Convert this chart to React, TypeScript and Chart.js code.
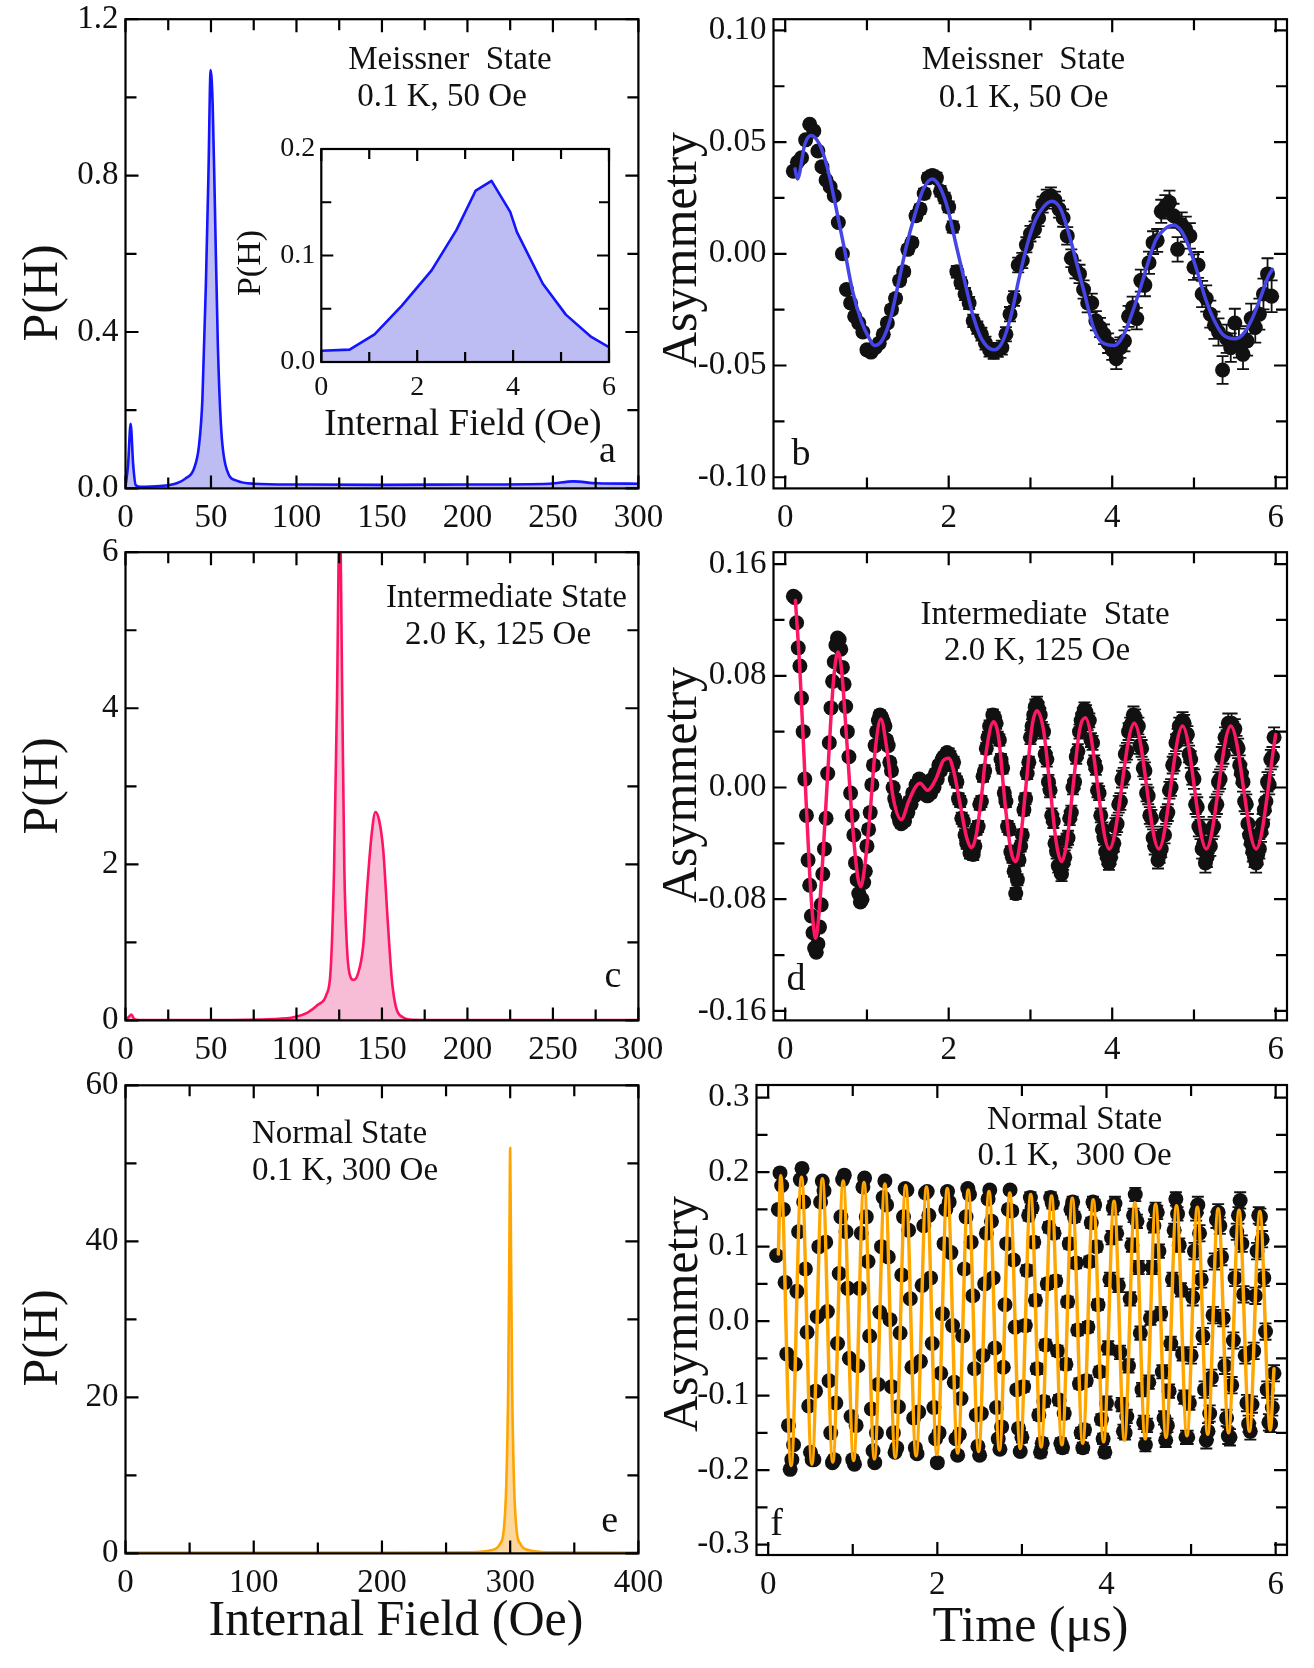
import { useEffect, useRef } from 'react';
import { Chart, registerables } from 'chart.js';

Chart.register(...registerables);

const SERIF = '"Liberation Serif", "Times New Roman", Times, serif';
const INK = '#111111';

// ---------- (a) field distribution, Meissner state ----------
const aField = [0, 1.5, 3, 4.5, 6, 9, 15, 25, 30, 35, 40, 43, 45, 47, 48.5, 49.8, 51, 52.3, 54, 56, 59.5, 65, 75, 100, 150, 200, 248, 262, 276, 300];
const aProb = [0.005, 0.06, 0.165, 0.06, 0.008, 0.004, 0.005, 0.008, 0.013, 0.025, 0.05, 0.11, 0.23, 0.52, 0.8, 1.07, 0.98, 0.72, 0.37, 0.15, 0.045, 0.02, 0.012, 0.01, 0.009, 0.01, 0.012, 0.018, 0.013, 0.012];
const aXTicks = [0, 50, 100, 150, 200, 250, 300];
const aXMinor = [25, 75, 125, 175, 225, 275];
const aYTicks = [0, 0.4, 0.8, 1.2];
const aYMinor = [0.2, 0.6, 1.0];

// inset of (a): low-field part of the distribution
const insetField = [0, 0.59, 1.11, 1.68, 2.3, 2.82, 3.22, 3.55, 3.94, 4.08, 4.62, 5.1, 5.63, 6];
const insetProb = [0.0106, 0.0116, 0.026, 0.053, 0.086, 0.124, 0.161, 0.17, 0.141, 0.122, 0.0735, 0.0445, 0.0235, 0.0139];
const insetXTicks = [0, 2, 4, 6];
const insetXMinor = [1, 3, 5];
const insetYTicks = [0, 0.1, 0.2];
const insetYMinor = [0.05, 0.15];

// ---------- (b) asymmetry, Meissner state: [time, asymmetry, error] ----------
const bPoints = [
  [0.10, 0.037, 0.0010], [0.15, 0.041, 0.0010], [0.20, 0.043, 0.0010], [0.25, 0.051, 0.0011], [0.30, 0.058, 0.0011],
  [0.35, 0.055, 0.0011], [0.40, 0.046, 0.0012], [0.45, 0.039, 0.0012], [0.50, 0.033, 0.0012], [0.55, 0.030, 0.0013],
  [0.60, 0.026, 0.0013], [0.65, 0.014, 0.0013], [0.70, 0.000, 0.0014], [0.75, -0.016, 0.0014], [0.80, -0.022, 0.0014],
  [0.85, -0.028, 0.0015], [0.90, -0.031, 0.0015], [0.95, -0.035, 0.0015], [1.00, -0.043, 0.0016], [1.05, -0.044, 0.0016],
  [1.10, -0.042, 0.0017], [1.15, -0.040, 0.0017], [1.20, -0.036, 0.0017], [1.25, -0.031, 0.0018], [1.30, -0.025, 0.0018],
  [1.35, -0.020, 0.0019], [1.40, -0.012, 0.0019], [1.45, -0.008, 0.0019], [1.50, 0.002, 0.0020], [1.55, 0.005, 0.0020],
  [1.60, 0.017, 0.0021], [1.65, 0.020, 0.0021], [1.70, 0.027, 0.0022], [1.75, 0.034, 0.0022], [1.80, 0.035, 0.0023],
  [1.85, 0.034, 0.0023], [1.90, 0.028, 0.0024], [1.95, 0.025, 0.0024], [2.00, 0.021, 0.0025], [2.05, 0.012, 0.0025],
  [2.10, -0.008, 0.0026], [2.15, -0.013, 0.0026], [2.20, -0.018, 0.0027], [2.25, -0.022, 0.0027], [2.30, -0.030, 0.0028],
  [2.35, -0.033, 0.0028], [2.40, -0.036, 0.0029], [2.45, -0.040, 0.0029], [2.50, -0.043, 0.0030], [2.55, -0.044, 0.0030],
  [2.60, -0.043, 0.0031], [2.65, -0.042, 0.0031], [2.70, -0.036, 0.0032], [2.75, -0.027, 0.0032], [2.80, -0.020, 0.0033],
  [2.85, -0.005, 0.0033], [2.90, -0.003, 0.0034], [2.95, 0.004, 0.0034], [3.00, 0.009, 0.0035], [3.05, 0.011, 0.0035],
  [3.10, 0.016, 0.0036], [3.15, 0.022, 0.0036], [3.20, 0.025, 0.0037], [3.25, 0.026, 0.0037], [3.30, 0.024, 0.0038],
  [3.35, 0.020, 0.0038], [3.40, 0.016, 0.0039], [3.45, 0.008, 0.0039], [3.50, -0.002, 0.0040], [3.55, -0.007, 0.0040],
  [3.60, -0.009, 0.0041], [3.65, -0.016, 0.0041], [3.70, -0.022, 0.0042], [3.75, -0.022, 0.0042], [3.80, -0.030, 0.0043],
  [3.85, -0.033, 0.0043], [3.90, -0.036, 0.0044], [3.95, -0.040, 0.0044], [4.00, -0.043, 0.0045], [4.05, -0.047, 0.0046],
  [4.10, -0.042, 0.0046], [4.15, -0.039, 0.0047], [4.20, -0.028, 0.0047], [4.25, -0.024, 0.0048], [4.30, -0.029, 0.0048],
  [4.35, -0.012, 0.0049], [4.40, -0.014, 0.0050], [4.45, -0.004, 0.0050], [4.50, 0.005, 0.0051], [4.55, 0.006, 0.0051],
  [4.60, 0.019, 0.0052], [4.65, 0.021, 0.0053], [4.70, 0.023, 0.0053], [4.75, 0.017, 0.0054], [4.80, 0.002, 0.0055],
  [4.85, 0.013, 0.0055], [4.90, 0.011, 0.0056], [4.95, 0.008, 0.0057], [5.00, -0.006, 0.0057], [5.05, -0.005, 0.0058],
  [5.10, -0.018, 0.0059], [5.15, -0.020, 0.0059], [5.20, -0.027, 0.0060], [5.25, -0.032, 0.0061], [5.30, -0.035, 0.0061],
  [5.35, -0.052, 0.0062], [5.40, -0.038, 0.0063], [5.45, -0.042, 0.0064], [5.50, -0.031, 0.0064], [5.55, -0.040, 0.0065],
  [5.60, -0.045, 0.0066], [5.65, -0.039, 0.0066], [5.70, -0.029, 0.0067], [5.75, -0.033, 0.0068], [5.80, -0.027, 0.0069],
  [5.85, -0.018, 0.0069], [5.90, -0.009, 0.0070], [5.95, -0.019, 0.0071],
];
const bFit = [
  [0.12, 0.038], [0.15, 0.0335], [0.24, 0.049], [0.315, 0.053], [0.42, 0.049], [0.52, 0.038], [0.62, 0.021], [0.72, 0.003],
  [0.82, -0.016], [0.93, -0.030], [1.03, -0.038], [1.09, -0.041], [1.18, -0.039], [1.28, -0.030], [1.38, -0.014], [1.48, 0.003],
  [1.59, 0.018], [1.69, 0.029], [1.80, 0.0335], [1.89, 0.030], [1.99, 0.020], [2.09, 0.004], [2.20, -0.013], [2.30, -0.028],
  [2.40, -0.038], [2.55, -0.043], [2.65, -0.040], [2.76, -0.028], [2.86, -0.011], [2.96, 0.004], [3.06, 0.015], [3.16, 0.021],
  [3.26, 0.0235], [3.37, 0.020], [3.47, 0.009], [3.57, -0.005], [3.67, -0.019], [3.77, -0.033], [3.87, -0.0395], [4.03, -0.041],
  [4.13, -0.037], [4.23, -0.028], [4.33, -0.017], [4.43, -0.005], [4.53, 0.006], [4.64, 0.011], [4.75, 0.0128], [4.84, 0.0105],
  [4.94, 0.003], [5.04, -0.008], [5.14, -0.020], [5.25, -0.030], [5.35, -0.036], [5.50, -0.038], [5.60, -0.036], [5.70, -0.030],
  [5.81, -0.020], [5.91, -0.010], [5.96, -0.007],
];
const timeTicks = [0, 2, 4, 6];
const timeMinor = [1, 3, 5];
const bYTicks = [-0.1, -0.05, 0, 0.05, 0.1];
const bYMinor = [-0.075, -0.025, 0.025, 0.075];

// ---------- (c) field distribution, intermediate state ----------
const cField = [0, 1.7, 3.5, 5, 8, 50, 87, 99, 106.5, 112.5, 117.5, 120, 122, 123.7, 125.3, 126.8, 128, 129.5, 131, 133.5, 136, 139, 141.5, 144, 146.2, 148.4, 150.8, 153.3, 155.8, 158.2, 162, 168, 200, 300];
const cProb = [0, 0.04, 0.075, 0.02, 0.005, 0.005, 0.017, 0.043, 0.1, 0.2, 0.33, 0.65, 1.95, 4.1, 6.6, 4.1, 1.95, 0.95, 0.6, 0.52, 0.6, 0.95, 1.74, 2.39, 2.67, 2.56, 2.17, 1.3, 0.52, 0.17, 0.043, 0.009, 0.005, 0.005];
const cYTicks = [0, 2, 4, 6];
const cYMinor = [1, 3, 5];

// ---------- (d) asymmetry, intermediate state: [time, asymmetry, error] ----------
const dPoints = [
  [0.10, 0.137, 0.0015], [0.12, 0.136, 0.0015], [0.14, 0.118, 0.0015], [0.16, 0.100, 0.0015], [0.18, 0.087, 0.0015],
  [0.20, 0.064, 0.0015], [0.22, 0.040, 0.0015], [0.24, 0.006, 0.0015], [0.26, -0.020, 0.0015], [0.28, -0.052, 0.0015],
  [0.30, -0.070, 0.0015], [0.32, -0.092, 0.0015], [0.34, -0.104, 0.0015], [0.36, -0.115, 0.0015], [0.38, -0.118, 0.0015],
  [0.40, -0.112, 0.0015], [0.42, -0.100, 0.0015], [0.44, -0.084, 0.0015], [0.46, -0.062, 0.0015], [0.48, -0.044, 0.0015],
  [0.50, -0.022, 0.002], [0.52, 0.010, 0.002], [0.54, 0.032, 0.002], [0.56, 0.057, 0.002], [0.58, 0.076, 0.002],
  [0.60, 0.090, 0.002], [0.62, 0.102, 0.002], [0.64, 0.107, 0.002], [0.66, 0.106, 0.002], [0.68, 0.099, 0.002],
  [0.70, 0.086, 0.002], [0.72, 0.074, 0.002], [0.74, 0.058, 0.002], [0.76, 0.040, 0.002], [0.78, 0.022, 0.002],
  [0.80, -0.004, 0.002], [0.82, -0.020, 0.002], [0.84, -0.034, 0.002], [0.86, -0.054, 0.002], [0.88, -0.066, 0.002],
  [0.90, -0.076, 0.002], [0.92, -0.082, 0.002], [0.94, -0.080, 0.002], [0.96, -0.068, 0.002], [0.98, -0.060, 0.002],
  [1.00, -0.042, 0.003], [1.02, -0.030, 0.003], [1.04, -0.018, 0.003], [1.06, 0.002, 0.003], [1.08, 0.016, 0.003],
  [1.10, 0.030, 0.003], [1.12, 0.040, 0.003], [1.14, 0.048, 0.003], [1.16, 0.052, 0.003], [1.18, 0.050, 0.003],
  [1.20, 0.047, 0.003], [1.22, 0.044, 0.003], [1.24, 0.034, 0.003], [1.26, 0.030, 0.003], [1.28, 0.018, 0.003],
  [1.30, 0.012, 0.003], [1.32, 0.000, 0.003], [1.34, -0.008, 0.003], [1.36, -0.012, 0.003], [1.38, -0.020, 0.003],
  [1.40, -0.024, 0.003], [1.42, -0.026, 0.003], [1.44, -0.022, 0.003], [1.46, -0.024, 0.003], [1.48, -0.016, 0.003],
  [1.50, -0.018, 0.003], [1.52, -0.010, 0.003], [1.54, -0.012, 0.003], [1.56, -0.004, 0.003], [1.58, -0.006, 0.003],
  [1.60, 0.002, 0.003], [1.62, -0.002, 0.003], [1.64, 0.006, 0.003], [1.66, 0.000, 0.003], [1.68, 0.004, 0.003],
  [1.70, -0.004, 0.003], [1.72, 0.000, 0.003], [1.74, -0.006, 0.003], [1.76, 0.002, 0.003], [1.78, -0.004, 0.003],
  [1.80, 0.006, 0.003], [1.82, 0.000, 0.003], [1.84, 0.010, 0.003], [1.86, 0.006, 0.003], [1.88, 0.016, 0.003],
  [1.90, 0.012, 0.003], [1.92, 0.020, 0.003], [1.94, 0.022, 0.003], [1.96, 0.018, 0.003], [1.98, 0.025, 0.003],
  [2.00, 0.024, 0.004], [2.02, 0.022, 0.004], [2.04, 0.016, 0.004], [2.06, 0.018, 0.004], [2.08, 0.006, 0.004],
  [2.10, 0.004, 0.004], [2.12, -0.008, 0.004], [2.14, -0.010, 0.004], [2.16, -0.022, 0.004], [2.18, -0.024, 0.004],
  [2.20, -0.034, 0.004], [2.22, -0.040, 0.004], [2.24, -0.038, 0.004], [2.26, -0.047, 0.004], [2.28, -0.044, 0.004],
  [2.30, -0.048, 0.004], [2.32, -0.042, 0.004], [2.34, -0.030, 0.004], [2.36, -0.028, 0.004], [2.38, -0.012, 0.004],
  [2.40, -0.010, 0.004], [2.42, 0.008, 0.004], [2.44, 0.012, 0.004], [2.46, 0.028, 0.004], [2.48, 0.036, 0.004],
  [2.50, 0.044, 0.004], [2.52, 0.040, 0.004], [2.54, 0.052, 0.004], [2.56, 0.050, 0.004], [2.58, 0.046, 0.004],
  [2.60, 0.036, 0.004], [2.62, 0.034, 0.004], [2.64, 0.020, 0.004], [2.66, 0.014, 0.004], [2.68, -0.004, 0.004],
  [2.70, -0.010, 0.004], [2.72, -0.028, 0.004], [2.74, -0.030, 0.004], [2.76, -0.046, 0.004], [2.78, -0.050, 0.004],
  [2.80, -0.060, 0.004], [2.82, -0.076, 0.004], [2.84, -0.066, 0.004], [2.86, -0.052, 0.004], [2.88, -0.042, 0.004],
  [2.90, -0.034, 0.004], [2.92, -0.016, 0.004], [2.94, -0.008, 0.004], [2.96, 0.010, 0.004], [2.98, 0.018, 0.004],
  [3.00, 0.036, 0.005], [3.02, 0.044, 0.005], [3.04, 0.052, 0.005], [3.06, 0.058, 0.005], [3.08, 0.060, 0.005],
  [3.10, 0.056, 0.005], [3.12, 0.052, 0.005], [3.14, 0.042, 0.005], [3.16, 0.040, 0.005], [3.18, 0.024, 0.005],
  [3.20, 0.020, 0.005], [3.22, 0.004, 0.005], [3.24, -0.002, 0.005], [3.26, -0.020, 0.005], [3.28, -0.024, 0.005],
  [3.30, -0.040, 0.005], [3.32, -0.046, 0.005], [3.34, -0.056, 0.005], [3.36, -0.058, 0.005], [3.38, -0.062, 0.005],
  [3.40, -0.054, 0.005], [3.42, -0.050, 0.005], [3.44, -0.038, 0.005], [3.46, -0.036, 0.005], [3.48, -0.022, 0.005],
  [3.50, -0.018, 0.005], [3.52, 0.000, 0.005], [3.54, 0.004, 0.005], [3.56, 0.022, 0.005], [3.58, 0.026, 0.005],
  [3.60, 0.040, 0.005], [3.62, 0.048, 0.005], [3.64, 0.052, 0.005], [3.66, 0.056, 0.005], [3.68, 0.054, 0.005],
  [3.70, 0.046, 0.005], [3.72, 0.048, 0.005], [3.74, 0.034, 0.005], [3.76, 0.032, 0.005], [3.78, 0.018, 0.005],
  [3.80, 0.014, 0.005], [3.82, -0.002, 0.005], [3.84, -0.004, 0.005], [3.86, -0.020, 0.005], [3.88, -0.030, 0.005],
  [3.90, -0.036, 0.005], [3.92, -0.046, 0.005], [3.94, -0.050, 0.005], [3.96, -0.054, 0.005], [3.98, -0.050, 0.005],
  [4.00, -0.044, 0.006], [4.02, -0.040, 0.006], [4.04, -0.028, 0.006], [4.06, -0.026, 0.006], [4.08, -0.012, 0.006],
  [4.10, -0.010, 0.006], [4.12, 0.006, 0.006], [4.14, 0.008, 0.006], [4.16, 0.024, 0.006], [4.18, 0.026, 0.006],
  [4.20, 0.040, 0.006], [4.22, 0.044, 0.006], [4.24, 0.046, 0.006], [4.26, 0.052, 0.006], [4.28, 0.050, 0.006],
  [4.30, 0.042, 0.006], [4.32, 0.044, 0.006], [4.34, 0.030, 0.006], [4.36, 0.028, 0.006], [4.38, 0.014, 0.006],
  [4.40, 0.012, 0.006], [4.42, -0.004, 0.006], [4.44, -0.006, 0.006], [4.46, -0.020, 0.006], [4.48, -0.022, 0.006],
  [4.50, -0.036, 0.006], [4.52, -0.042, 0.006], [4.54, -0.040, 0.006], [4.56, -0.052, 0.006], [4.58, -0.048, 0.006],
  [4.60, -0.044, 0.006], [4.62, -0.034, 0.006], [4.64, -0.034, 0.006], [4.66, -0.020, 0.006], [4.68, -0.018, 0.006],
  [4.70, -0.002, 0.006], [4.72, 0.000, 0.006], [4.74, 0.016, 0.006], [4.76, 0.018, 0.006], [4.78, 0.032, 0.006],
  [4.80, 0.036, 0.006], [4.82, 0.044, 0.006], [4.84, 0.040, 0.006], [4.86, 0.048, 0.006], [4.88, 0.046, 0.006],
  [4.90, 0.036, 0.006], [4.92, 0.038, 0.006], [4.94, 0.024, 0.006], [4.96, 0.020, 0.006], [4.98, 0.008, 0.006],
  [5.00, 0.006, 0.007], [5.02, -0.012, 0.007], [5.04, -0.014, 0.007], [5.06, -0.028, 0.007], [5.08, -0.030, 0.007],
  [5.10, -0.044, 0.007], [5.12, -0.040, 0.007], [5.14, -0.054, 0.007], [5.16, -0.050, 0.007], [5.18, -0.040, 0.007],
  [5.20, -0.042, 0.007], [5.22, -0.030, 0.007], [5.24, -0.028, 0.007], [5.26, -0.014, 0.007], [5.28, -0.012, 0.007],
  [5.30, 0.004, 0.007], [5.32, 0.006, 0.007], [5.34, 0.022, 0.007], [5.36, 0.024, 0.007], [5.38, 0.036, 0.007],
  [5.40, 0.034, 0.007], [5.42, 0.046, 0.007], [5.44, 0.042, 0.007], [5.46, 0.046, 0.007], [5.48, 0.040, 0.007],
  [5.50, 0.042, 0.007], [5.52, 0.030, 0.007], [5.54, 0.028, 0.007], [5.56, 0.016, 0.007], [5.58, 0.010, 0.007],
  [5.60, 0.004, 0.007], [5.62, -0.010, 0.007], [5.64, -0.012, 0.007], [5.66, -0.026, 0.007], [5.68, -0.034, 0.007],
  [5.70, -0.040, 0.007], [5.72, -0.046, 0.007], [5.74, -0.050, 0.007], [5.76, -0.054, 0.007], [5.78, -0.048, 0.007],
  [5.80, -0.044, 0.007], [5.82, -0.032, 0.007], [5.84, -0.026, 0.007], [5.86, -0.016, 0.007], [5.88, -0.010, 0.007],
  [5.90, 0.004, 0.007], [5.92, 0.002, 0.007], [5.94, 0.020, 0.007], [5.96, 0.022, 0.007], [5.98, 0.036, 0.007],
];
const dFit = [
  [0.125, 0.134], [0.18, 0.084], [0.24, 0.010], [0.30, -0.062], [0.344, -0.098], [0.373, -0.108], [0.414, -0.090],
  [0.466, -0.045], [0.53, 0.020], [0.59, 0.076], [0.645, 0.097], [0.69, 0.084], [0.75, 0.036], [0.82, -0.024],
  [0.887, -0.064], [0.925, -0.071], [0.976, -0.055], [1.04, -0.017], [1.10, 0.026], [1.17, 0.049], [1.24, 0.029],
  [1.32, -0.007], [1.42, -0.023], [1.51, -0.010], [1.59, 0.000], [1.65, 0.003], [1.74, -0.002], [1.85, 0.007],
  [1.93, 0.019], [2.00, 0.021], [2.06, 0.012], [2.14, -0.012], [2.22, -0.036], [2.28, -0.043], [2.34, -0.033],
  [2.40, -0.007], [2.46, 0.026], [2.55, 0.047], [2.61, 0.036], [2.69, -0.012], [2.76, -0.045], [2.82, -0.053],
  [2.87, -0.041], [2.95, 0.004], [3.02, 0.044], [3.08, 0.055], [3.16, 0.041], [3.24, 0.000], [3.32, -0.041],
  [3.38, -0.053], [3.44, -0.041], [3.52, 0.000], [3.60, 0.041], [3.67, 0.050], [3.965, -0.044], [4.27, 0.046],
  [4.57, -0.044], [4.86, 0.044], [5.15, -0.044], [5.45, 0.044], [5.76, -0.044], [6.0, 0.038],
];
const dYTicks = [-0.16, -0.08, 0, 0.08, 0.16];
const dYMinor = [-0.12, -0.04, 0.04, 0.12];

// ---------- (e) field distribution, normal state ----------
const eField = [0, 100, 200, 270, 285, 292, 295, 297, 298.5, 299.4, 300, 300.6, 301.5, 303, 305, 308, 315, 330, 400];
const eProb = [0.1, 0.1, 0.1, 0.15, 0.4, 1.2, 3, 9, 22, 40, 52, 40, 22, 9, 3, 1.2, 0.4, 0.15, 0.1];
const eXTicks = [0, 100, 200, 300, 400];
const eXMinor = [50, 150, 250, 350];
const eYTicks = [0, 20, 40, 60];
const eYMinor = [10, 30, 50];

// ---------- (f) asymmetry, normal state: [time, asymmetry, error] ----------
const fPoints = [
  [0.10, 0.088, 0.003], [0.12, 0.150, 0.003], [0.14, 0.199, 0.003], [0.16, 0.182, 0.003], [0.18, 0.150, 0.003],
  [0.20, 0.052, 0.003], [0.22, -0.044, 0.003], [0.24, -0.140, 0.003], [0.26, -0.199, 0.003], [0.28, -0.186, 0.003],
  [0.30, -0.166, 0.003], [0.32, -0.058, 0.003], [0.34, 0.040, 0.003], [0.36, 0.120, 0.003], [0.38, 0.190, 0.003],
  [0.40, 0.205, 0.003], [0.42, 0.160, 0.003], [0.44, 0.070, 0.003], [0.46, -0.015, 0.003], [0.48, -0.114, 0.003],
  [0.50, -0.176, 0.003], [0.52, -0.186, 0.003], [0.54, -0.186, 0.003], [0.56, -0.094, 0.003], [0.58, 0.006, 0.003],
  [0.60, 0.100, 0.003], [0.62, 0.160, 0.003], [0.64, 0.188, 0.003], [0.66, 0.175, 0.003], [0.68, 0.106, 0.003],
  [0.70, 0.013, 0.003], [0.72, -0.080, 0.003], [0.74, -0.150, 0.003], [0.76, -0.190, 0.003], [0.78, -0.186, 0.003],
  [0.80, -0.110, 0.003], [0.82, -0.030, 0.003], [0.84, 0.064, 0.003], [0.86, 0.140, 0.003], [0.88, 0.190, 0.003],
  [0.90, 0.196, 0.003], [0.92, 0.120, 0.003], [0.94, 0.044, 0.003], [0.96, -0.050, 0.003], [0.98, -0.128, 0.003],
  [1.00, -0.186, 0.004], [1.02, -0.192, 0.004], [1.04, -0.140, 0.004], [1.06, -0.060, 0.004], [1.08, 0.044, 0.004],
  [1.10, 0.118, 0.004], [1.12, 0.180, 0.004], [1.14, 0.192, 0.004], [1.16, 0.140, 0.004], [1.18, 0.080, 0.004],
  [1.20, -0.020, 0.004], [1.22, -0.118, 0.004], [1.24, -0.174, 0.004], [1.26, -0.190, 0.004], [1.28, -0.150, 0.004],
  [1.30, -0.085, 0.004], [1.32, 0.012, 0.004], [1.34, 0.100, 0.004], [1.36, 0.166, 0.004], [1.38, 0.188, 0.004],
  [1.40, 0.156, 0.004], [1.42, 0.086, 0.004], [1.44, 0.002, 0.004], [1.46, -0.088, 0.004], [1.48, -0.150, 0.004],
  [1.50, -0.176, 0.004], [1.52, -0.170, 0.004], [1.54, -0.115, 0.004], [1.56, -0.016, 0.004], [1.58, 0.062, 0.004],
  [1.60, 0.140, 0.004], [1.62, 0.178, 0.004], [1.64, 0.176, 0.004], [1.66, 0.122, 0.004], [1.68, 0.030, 0.004],
  [1.70, -0.062, 0.004], [1.72, -0.130, 0.004], [1.74, -0.170, 0.004], [1.76, -0.178, 0.004], [1.78, -0.122, 0.004],
  [1.80, -0.054, 0.004], [1.82, 0.048, 0.004], [1.84, 0.128, 0.004], [1.86, 0.172, 0.004], [1.88, 0.174, 0.004],
  [1.90, 0.142, 0.004], [1.92, 0.058, 0.004], [1.94, -0.030, 0.004], [1.96, -0.116, 0.004], [1.98, -0.158, 0.004],
  [2.00, -0.190, 0.005], [2.02, -0.150, 0.005], [2.04, -0.070, 0.005], [2.06, 0.010, 0.005], [2.08, 0.104, 0.005],
  [2.10, 0.150, 0.005], [2.12, 0.174, 0.005], [2.14, 0.160, 0.005], [2.16, 0.092, 0.005], [2.18, -0.006, 0.005],
  [2.20, -0.082, 0.005], [2.22, -0.158, 0.005], [2.24, -0.180, 0.005], [2.26, -0.152, 0.005], [2.28, -0.104, 0.005],
  [2.30, -0.020, 0.005], [2.32, 0.070, 0.005], [2.34, 0.140, 0.005], [2.36, 0.178, 0.005], [2.38, 0.170, 0.005],
  [2.40, 0.106, 0.005], [2.42, 0.034, 0.005], [2.44, -0.064, 0.005], [2.46, -0.126, 0.005], [2.48, -0.168, 0.005],
  [2.50, -0.180, 0.005], [2.52, -0.124, 0.005], [2.54, -0.046, 0.005], [2.56, 0.050, 0.005], [2.58, 0.118, 0.005],
  [2.60, 0.164, 0.005], [2.62, 0.176, 0.005], [2.64, 0.134, 0.005], [2.66, 0.058, 0.005], [2.68, -0.036, 0.005],
  [2.70, -0.116, 0.005], [2.72, -0.158, 0.005], [2.74, -0.172, 0.005], [2.76, -0.142, 0.005], [2.78, -0.062, 0.005],
  [2.80, 0.022, 0.005], [2.82, 0.104, 0.005], [2.84, 0.150, 0.005], [2.86, 0.176, 0.005], [2.88, 0.148, 0.005],
  [2.90, 0.082, 0.005], [2.92, -0.008, 0.005], [2.94, -0.092, 0.005], [2.96, -0.144, 0.005], [2.98, -0.175, 0.005],
  [3.00, -0.156, 0.007], [3.02, -0.088, 0.007], [3.04, -0.006, 0.007], [3.06, 0.068, 0.007], [3.08, 0.142, 0.007],
  [3.10, 0.166, 0.007], [3.12, 0.152, 0.007], [3.14, 0.106, 0.007], [3.16, 0.028, 0.007], [3.18, -0.064, 0.007],
  [3.20, -0.126, 0.007], [3.22, -0.176, 0.007], [3.24, -0.164, 0.007], [3.26, -0.108, 0.007], [3.28, -0.032, 0.007],
  [3.30, 0.050, 0.007], [3.32, 0.126, 0.007], [3.34, 0.166, 0.007], [3.36, 0.158, 0.007], [3.38, 0.118, 0.007],
  [3.40, 0.054, 0.007], [3.42, -0.040, 0.007], [3.44, -0.106, 0.007], [3.46, -0.164, 0.007], [3.48, -0.170, 0.007],
  [3.50, -0.124, 0.007], [3.52, -0.058, 0.007], [3.54, 0.026, 0.007], [3.56, 0.104, 0.007], [3.58, 0.150, 0.007],
  [3.60, 0.160, 0.007], [3.62, 0.140, 0.007], [3.64, 0.078, 0.007], [3.66, -0.012, 0.007], [3.68, -0.084, 0.007],
  [3.70, -0.150, 0.007], [3.72, -0.170, 0.007], [3.74, -0.146, 0.007], [3.76, -0.080, 0.007], [3.78, -0.008, 0.007],
  [3.80, 0.080, 0.007], [3.82, 0.132, 0.007], [3.84, 0.160, 0.007], [3.86, 0.156, 0.007], [3.88, 0.100, 0.007],
  [3.90, 0.022, 0.007], [3.92, -0.068, 0.007], [3.94, -0.132, 0.007], [3.96, -0.158, 0.007], [3.98, -0.176, 0.007],
  [4.00, -0.110, 0.009], [4.02, -0.036, 0.009], [4.04, 0.056, 0.009], [4.06, 0.112, 0.009], [4.08, 0.152, 0.009],
  [4.10, 0.158, 0.009], [4.12, 0.118, 0.009], [4.14, 0.048, 0.009], [4.16, -0.042, 0.009], [4.18, -0.112, 0.009],
  [4.20, -0.148, 0.009], [4.22, -0.150, 0.009], [4.24, -0.128, 0.009], [4.26, -0.060, 0.009], [4.28, 0.030, 0.009],
  [4.30, 0.102, 0.009], [4.32, 0.142, 0.009], [4.34, 0.170, 0.009], [4.36, 0.134, 0.009], [4.38, 0.072, 0.009],
  [4.40, -0.016, 0.009], [4.42, -0.092, 0.009], [4.44, -0.136, 0.009], [4.46, -0.166, 0.009], [4.48, -0.140, 0.009],
  [4.50, -0.082, 0.009], [4.52, 0.004, 0.009], [4.54, 0.072, 0.009], [4.56, 0.128, 0.009], [4.58, 0.150, 0.009],
  [4.60, 0.146, 0.009], [4.62, 0.094, 0.009], [4.64, 0.010, 0.009], [4.66, -0.068, 0.009], [4.68, -0.130, 0.009],
  [4.70, -0.160, 0.009], [4.72, -0.140, 0.009], [4.74, -0.094, 0.009], [4.76, -0.030, 0.009], [4.78, 0.056, 0.009],
  [4.80, 0.122, 0.009], [4.82, 0.164, 0.009], [4.84, 0.144, 0.009], [4.86, 0.102, 0.009], [4.88, 0.042, 0.009],
  [4.90, -0.044, 0.009], [4.92, -0.102, 0.009], [4.94, -0.156, 0.009], [4.96, -0.156, 0.009], [4.98, -0.110, 0.009],
  [5.00, -0.046, 0.011], [5.02, 0.032, 0.011], [5.04, 0.094, 0.011], [5.06, 0.146, 0.011], [5.08, 0.156, 0.011],
  [5.10, 0.118, 0.011], [5.12, 0.056, 0.011], [5.14, -0.020, 0.011], [5.16, -0.092, 0.011], [5.18, -0.160, 0.011],
  [5.20, -0.148, 0.011], [5.22, -0.124, 0.011], [5.24, -0.076, 0.011], [5.26, 0.008, 0.011], [5.28, 0.080, 0.011],
  [5.30, 0.136, 0.011], [5.32, 0.146, 0.011], [5.34, 0.128, 0.011], [5.36, 0.086, 0.011], [5.38, 0.004, 0.011],
  [5.40, -0.060, 0.011], [5.42, -0.130, 0.011], [5.44, -0.154, 0.011], [5.46, -0.156, 0.011], [5.48, -0.086, 0.011],
  [5.50, -0.026, 0.011], [5.52, 0.058, 0.011], [5.54, 0.120, 0.011], [5.56, 0.142, 0.011], [5.58, 0.162, 0.011],
  [5.60, 0.104, 0.011], [5.62, 0.036, 0.011], [5.64, -0.046, 0.011], [5.66, -0.110, 0.011], [5.68, -0.138, 0.011],
  [5.70, -0.148, 0.011], [5.72, -0.112, 0.011], [5.74, -0.040, 0.011], [5.76, 0.034, 0.011], [5.78, 0.094, 0.011],
  [5.80, 0.142, 0.011], [5.82, 0.140, 0.011], [5.84, 0.110, 0.011], [5.86, 0.058, 0.011], [5.88, -0.014, 0.011],
  [5.90, -0.092, 0.011], [5.92, -0.136, 0.011], [5.94, -0.138, 0.011], [5.96, -0.116, 0.011], [5.98, -0.070, 0.011],
];
const fFit = [
  [0.12, 0.090], [0.148, 0.195], [0.271, -0.194], [0.394, 0.193], [0.517, -0.192], [0.641, 0.191], [0.764, -0.189],
  [0.887, 0.188], [1.010, -0.187], [1.133, 0.186], [1.256, -0.185], [1.380, 0.184], [1.503, -0.183], [1.626, 0.182],
  [1.749, -0.181], [1.872, 0.180], [1.995, -0.179], [2.118, 0.178], [2.241, -0.177], [2.365, 0.176], [2.488, -0.175],
  [2.611, 0.174], [2.734, -0.173], [2.857, 0.172], [2.980, -0.171], [3.104, 0.170], [3.227, -0.169], [3.350, 0.168],
  [3.473, -0.166], [3.596, 0.165], [3.719, -0.164], [3.843, 0.163], [3.966, -0.162], [4.089, 0.161], [4.212, -0.160],
  [4.335, 0.159], [4.458, -0.158], [4.581, 0.157], [4.704, -0.156], [4.828, 0.155], [4.951, -0.154], [5.074, 0.153],
  [5.197, -0.152], [5.320, 0.151], [5.443, -0.150], [5.567, 0.149], [5.690, -0.148], [5.813, 0.147], [5.936, -0.146],
  [5.98, -0.064],
];
const fYTicks = [-0.3, -0.2, -0.1, 0, 0.1, 0.2, 0.3];
const fYMinor = [-0.25, -0.15, -0.05, 0.05, 0.15, 0.25];

// ---------- helpers ----------
const xy = (xs: number[], ys: number[]) => xs.map((x, i) => ({ x, y: ys[i] }));
const pairs = (pts: number[][]) => pts.map((p) => ({ x: p[0], y: p[1] }));
const fixed = (n: number) => (v: number) => v.toFixed(n);
const whole = (v: number) => String(Math.round(v));

const curve = (data: any[], color: string, width: number, fillColor?: string, smooth = true) => ({
  type: 'line',
  data,
  borderColor: color,
  borderWidth: width,
  borderJoinStyle: 'round',
  borderCapStyle: 'round',
  pointRadius: 0,
  fill: fillColor ? 'origin' : false,
  backgroundColor: fillColor || 'transparent',
  cubicInterpolationMode: smooth ? 'monotone' : 'default',
  tension: 0,
  order: 0,
});

const markers = (data: any[]) => ({
  type: 'line',
  data,
  showLine: false,
  pointRadius: 7.5,
  pointBackgroundColor: INK,
  pointBorderColor: INK,
  pointBorderWidth: 0,
  order: 1,
});

type Txt = { s: string; x: number; y: number; size: number; rot?: boolean; align?: CanvasTextAlign };

type Spec = {
  canvas: number[]; // left, top, width, height on the page
  plot: number[]; // left, top, right, bottom on the page
  x: number[];
  y: number[];
  xTicks: number[];
  xMinor: number[];
  yTicks: number[];
  yMinor: number[];
  xFmt: (v: number) => string;
  yFmt: (v: number) => string;
  tickSize: number;
  xPad: number;
  yPad: number;
  tickLen: number;
  minorLen: number;
  datasets: any[];
  errors?: number[][];
  texts: Txt[];
};

const MAIN = { tickSize: 33, xPad: 10, yPad: 7, tickLen: 13, minorLen: 11 };

const PANELS: Spec[] = [
  {
    ...MAIN,
    canvas: [0, 0, 690, 545],
    plot: [125.5, 19.2, 638.4, 488.4],
    x: [0, 300], y: [0, 1.2],
    xTicks: aXTicks, xMinor: aXMinor, yTicks: aYTicks, yMinor: aYMinor,
    xFmt: whole, yFmt: fixed(1),
    datasets: [curve(xy(aField, aProb), '#1414ff', 2.6, '#bdbdf3')],
    texts: [
      { s: 'P(H)', x: 43.6, y: 293, size: 50, rot: true },
      { s: 'Meissner  State', x: 450, y: 60, size: 33 },
      { s: '0.1 K, 50 Oe', x: 442, y: 97, size: 33 },
      { s: 'a', x: 607.5, y: 452, size: 38 },
    ],
  },
  {
    tickSize: 28, xPad: 9, yPad: 6, tickLen: 12, minorLen: 10,
    canvas: [230, 120, 410, 330],
    plot: [321.3, 149, 609, 362],
    x: [0, 6], y: [0, 0.2],
    xTicks: insetXTicks, xMinor: insetXMinor, yTicks: insetYTicks, yMinor: insetYMinor,
    xFmt: whole, yFmt: fixed(1),
    datasets: [curve(xy(insetField, insetProb), '#1414ff', 2.6, '#bdbdf3', false)],
    texts: [
      { s: 'P(H)', x: 251, y: 263, size: 34, rot: true },
      { s: 'Internal Field (Oe)', x: 463, y: 425, size: 37 },
    ],
  },
  {
    ...MAIN,
    canvas: [640, 0, 674, 545],
    plot: [773.5, 19.2, 1287, 488.4],
    x: [-0.143, 6.138], y: [-0.105, 0.105],
    xTicks: timeTicks, xMinor: timeMinor, yTicks: bYTicks, yMinor: bYMinor,
    xFmt: whole, yFmt: fixed(2),
    datasets: [curve(pairs(bFit), '#4646e8', 3.5), markers(pairs(bPoints))],
    errors: bPoints,
    texts: [
      { s: 'Asymmetry', x: 683, y: 250, size: 50, rot: true },
      { s: 'Meissner  State', x: 1023.5, y: 60, size: 33 },
      { s: '0.1 K, 50 Oe', x: 1023.5, y: 98, size: 33 },
      { s: 'b', x: 801, y: 455, size: 38 },
    ],
  },
  {
    ...MAIN,
    canvas: [0, 530, 690, 545],
    plot: [125.5, 552.2, 638.4, 1020.4],
    x: [0, 300], y: [0, 6],
    xTicks: aXTicks, xMinor: aXMinor, yTicks: cYTicks, yMinor: cYMinor,
    xFmt: whole, yFmt: whole,
    datasets: [curve(xy(cField, cProb), '#ff1462', 2.6, '#f8bdd6')],
    texts: [
      { s: 'P(H)', x: 43.6, y: 786, size: 50, rot: true },
      { s: 'Intermediate State', x: 506.5, y: 598, size: 33 },
      { s: '2.0 K, 125 Oe', x: 498, y: 635, size: 33 },
      { s: 'c', x: 613, y: 977, size: 38 },
    ],
  },
  {
    ...MAIN,
    canvas: [640, 530, 674, 545],
    plot: [773.5, 552.2, 1287, 1020.4],
    x: [-0.143, 6.138], y: [-0.1668, 0.1685],
    xTicks: timeTicks, xMinor: timeMinor, yTicks: dYTicks, yMinor: dYMinor,
    xFmt: whole, yFmt: fixed(2),
    datasets: [curve(pairs(dFit), '#ff1767', 3.5), markers(pairs(dPoints))],
    errors: dPoints,
    texts: [
      { s: 'Asymmetry', x: 683, y: 785, size: 50, rot: true },
      { s: 'Intermediate  State', x: 1045, y: 615, size: 33 },
      { s: '2.0 K, 125 Oe', x: 1037, y: 651, size: 33 },
      { s: 'd', x: 796, y: 980, size: 38 },
    ],
  },
  {
    ...MAIN,
    canvas: [0, 1060, 690, 608],
    plot: [125.5, 1085.3, 638.4, 1553.4],
    x: [0, 400], y: [0, 60],
    xTicks: eXTicks, xMinor: eXMinor, yTicks: eYTicks, yMinor: eYMinor,
    xFmt: whole, yFmt: whole,
    datasets: [curve(xy(eField, eProb), '#ffa500', 2.6, '#fcd89e')],
    texts: [
      { s: 'P(H)', x: 43.6, y: 1338, size: 50, rot: true },
      { s: 'Normal State', x: 252, y: 1134, size: 33, align: 'left' },
      { s: '0.1 K, 300 Oe', x: 252, y: 1171, size: 33, align: 'left' },
      { s: 'e', x: 609.7, y: 1522, size: 38 },
      { s: 'Internal Field (Oe)', x: 396, y: 1622, size: 50 },
    ],
  },
  {
    ...MAIN,
    xPad: 11,
    canvas: [640, 1060, 674, 608],
    plot: [756.5, 1085, 1287, 1555],
    x: [-0.138, 6.134], y: [-0.314, 0.317],
    xTicks: timeTicks, xMinor: timeMinor, yTicks: fYTicks, yMinor: fYMinor,
    xFmt: whole, yFmt: fixed(1),
    datasets: [curve(pairs(fFit), '#ffa600', 3.5), markers(pairs(fPoints))],
    errors: fPoints,
    texts: [
      { s: 'Asymmetry', x: 684, y: 1314, size: 50, rot: true },
      { s: 'Normal State', x: 1074.6, y: 1120, size: 33 },
      { s: '0.1 K,  300 Oe', x: 1074.6, y: 1156.5, size: 33 },
      { s: 'f', x: 776.7, y: 1524.7, size: 38 },
      { s: 'Time (μs)', x: 1030.5, y: 1628, size: 50 },
    ],
  },
];

// Frame with inward ticks on all four sides, error bars and the panel texts.
function decorations(spec: Spec) {
  return {
    id: 'panelDecor',
    beforeDatasetsDraw(chart: any) {
      const pts = spec.errors;
      if (!pts) return;
      const { ctx, chartArea: a, scales } = chart;
      const xs = scales.x;
      const ys = scales.y;
      ctx.save();
      ctx.beginPath();
      ctx.rect(a.left, a.top, a.right - a.left, a.bottom - a.top);
      ctx.clip();
      ctx.strokeStyle = INK;
      ctx.lineWidth = 1.8;
      ctx.beginPath();
      for (const p of pts) {
        const px = xs.getPixelForValue(p[0]);
        const hi = ys.getPixelForValue(p[1] + p[2]);
        const lo = ys.getPixelForValue(p[1] - p[2]);
        ctx.moveTo(px, hi);
        ctx.lineTo(px, lo);
        ctx.moveTo(px - 6, hi);
        ctx.lineTo(px + 6, hi);
        ctx.moveTo(px - 6, lo);
        ctx.lineTo(px + 6, lo);
      }
      ctx.stroke();
      ctx.restore();
    },
    afterDraw(chart: any) {
      const { ctx, chartArea: a, scales } = chart;
      const xs = scales.x;
      const ys = scales.y;
      ctx.save();
      ctx.strokeStyle = '#000';
      ctx.lineWidth = 2.2;
      ctx.strokeRect(a.left, a.top, a.right - a.left, a.bottom - a.top);
      ctx.beginPath();
      const xMark = (v: number, len: number) => {
        const px = xs.getPixelForValue(v);
        ctx.moveTo(px, a.bottom);
        ctx.lineTo(px, a.bottom - len);
        ctx.moveTo(px, a.top);
        ctx.lineTo(px, a.top + len);
      };
      const yMark = (v: number, len: number) => {
        const py = ys.getPixelForValue(v);
        ctx.moveTo(a.left, py);
        ctx.lineTo(a.left + len, py);
        ctx.moveTo(a.right, py);
        ctx.lineTo(a.right - len, py);
      };
      spec.xTicks.forEach((v) => xMark(v, spec.tickLen));
      spec.xMinor.forEach((v) => xMark(v, spec.minorLen));
      spec.yTicks.forEach((v) => yMark(v, spec.tickLen));
      spec.yMinor.forEach((v) => yMark(v, spec.minorLen));
      ctx.stroke();

      ctx.fillStyle = INK;
      ctx.textBaseline = 'middle';
      for (const t of spec.texts) {
        ctx.font = `${t.size}px ${SERIF}`;
        ctx.textAlign = t.align || 'center';
        const x = t.x - spec.canvas[0];
        const y = t.y - spec.canvas[1];
        if (t.rot) {
          ctx.save();
          ctx.translate(x, y);
          ctx.rotate(-Math.PI / 2);
          ctx.fillText(t.s, 0, 0);
          ctx.restore();
        } else {
          ctx.fillText(t.s, x, y);
        }
      }
      ctx.restore();
    },
  };
}

function buildConfig(spec: Spec): any {
  const [cl, ct, cw, ch] = spec.canvas;
  const [pl, pt, pr, pb] = spec.plot;
  const tickFont = { family: SERIF, size: spec.tickSize };
  return {
    type: 'line',
    data: { datasets: spec.datasets },
    options: {
      responsive: false,
      maintainAspectRatio: false,
      animation: false,
      devicePixelRatio: 1,
      events: [],
      layout: { padding: { left: 0, top: pt - ct, right: cl + cw - pr, bottom: 0 } },
      plugins: { legend: { display: false }, tooltip: { enabled: false } },
      scales: {
        x: {
          type: 'linear',
          position: 'bottom',
          min: spec.x[0],
          max: spec.x[1],
          bounds: 'data',
          grid: { display: false, drawTicks: false, tickLength: 0 },
          border: { display: false },
          ticks: {
            font: tickFont,
            color: INK,
            padding: spec.xPad,
            maxRotation: 0,
            autoSkip: false,
            callback: (v: any) => spec.xFmt(Number(v)),
          },
          afterBuildTicks: (s: any) => {
            s.ticks = spec.xTicks.map((v) => ({ value: v }));
          },
          afterFit: (s: any) => {
            s.height = ct + ch - pb;
            s.paddingLeft = 0;
            s.paddingRight = 0;
          },
        },
        y: {
          type: 'linear',
          position: 'left',
          min: spec.y[0],
          max: spec.y[1],
          bounds: 'data',
          grid: { display: false, drawTicks: false, tickLength: 0 },
          border: { display: false },
          ticks: {
            font: tickFont,
            color: INK,
            padding: spec.yPad,
            autoSkip: false,
            callback: (v: any) => spec.yFmt(Number(v)),
          },
          afterBuildTicks: (s: any) => {
            s.ticks = spec.yTicks.map((v) => ({ value: v }));
          },
          afterFit: (s: any) => {
            s.width = pl - cl;
            s.paddingTop = 0;
            s.paddingBottom = 0;
          },
        },
      },
    },
    plugins: [decorations(spec)],
  };
}

function PanelChart({ spec }: { spec: Spec }) {
  const ref = useRef<HTMLCanvasElement>(null);
  useEffect(() => {
    const el = ref.current;
    if (!el) return;
    const chart = new Chart(el, buildConfig(spec));
    return () => chart.destroy();
  }, [spec]);
  const [l, t, w, h] = spec.canvas;
  return (
    <canvas
      ref={ref}
      width={w}
      height={h}
      style={{ position: 'absolute', left: l, top: t, width: w, height: h }}
    />
  );
}

export default function App() {
  return (
    <div
      style={{
        position: 'absolute',
        left: 0,
        top: 0,
        width: 1314,
        height: 1668,
        background: '#ffffff',
        overflow: 'hidden',
      }}
    >
      {PANELS.map((p, i) => (
        <PanelChart key={i} spec={p} />
      ))}
    </div>
  );
}
